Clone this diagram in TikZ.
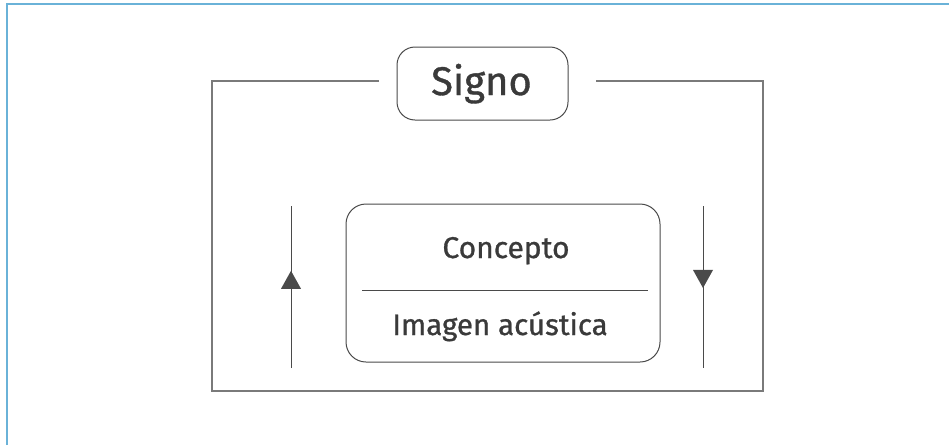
\documentclass[tikz,border=0pt]{standalone}
\usepackage{fontspec}
\setmainfont{Fira Sans}[FakeBold=0.9]
\usetikzlibrary{decorations.markings,calc}
\definecolor{pageblue}{HTML}{6AB2D8}
\definecolor{framegray}{HTML}{7A7A7A}
\definecolor{linegray}{HTML}{4A4A4A}
\definecolor{textgray}{HTML}{3A3A3A}
\tikzset{
  x=1pt, y=-1pt,
  framebox/.style={draw=framegray, line width=1.3pt},
  roundbox/.style={draw=linegray, line width=1pt, rounded corners=20pt, inner sep=0pt},
  label text/.style={text=textgray, anchor=base, inner sep=0pt},
  flowline/.style={draw=linegray, line width=1pt},
  midup/.style={postaction={decorate}, decoration={markings,
    mark=at position 0.6 with {\fill[linegray] (0,0) -- (-18pt,10pt) -- (-18pt,-10pt) -- cycle;}}},
}
\begin{document}
\begin{tikzpicture}
  \useasboundingbox (0,0) rectangle (949,445);
  % page edge
  \draw[pageblue, line width=2pt] (7,445) -- (7,4) -- (949,4);

  % title box and the frame that hangs from it
  \node[roundbox, rounded corners=18pt, minimum width=171pt, minimum height=73pt] (signo) at (482.5,83.5) {};
  \node[label text, font=\fontsize{40}{40}\selectfont] (signotxt) at (481.5,95) {Signo};
  \coordinate (ftl) at (212,81);
  \coordinate (ftr) at (763,81);
  \coordinate (fbl) at (212,391);
  \coordinate (fbr) at (763,391);
  \coordinate (gapl) at (379,81);
  \coordinate (gapr) at (596,81);
  \draw[framebox] (gapl) -- (ftl) -- (fbl) -- (fbr) -- (ftr) -- (gapr);

  % sign box: concept over acoustic image
  \node[roundbox, minimum width=314pt, minimum height=158pt] (sign) at (503,283) {};
  \node[label text, font=\fontsize{30}{30}\selectfont] (concepto) at (506,258) {Concepto};
  \node[label text, font=\fontsize{29.5}{30}\selectfont] (imagen) at (500,335) {Imagen acústica};
  \coordinate (divl) at (362,290);
  \coordinate (divr) at (648,290);
  \draw[flowline] (divl) -- (divr);

  % arrows on either side
  \coordinate (upbot) at (291,368);
  \coordinate (uptop) at (291,206);
  \coordinate (dntop) at (703,206);
  \coordinate (dnbot) at (703,368);
  \draw[flowline, midup] (upbot) -- (uptop);
  \draw[flowline, decoration={markings,
    mark=at position 0.506 with {\fill[linegray] (0,0) -- (-18pt,10pt) -- (-18pt,-10pt) -- cycle;}},
    postaction={decorate}] (dntop) -- (dnbot);
\end{tikzpicture}
\end{document}
